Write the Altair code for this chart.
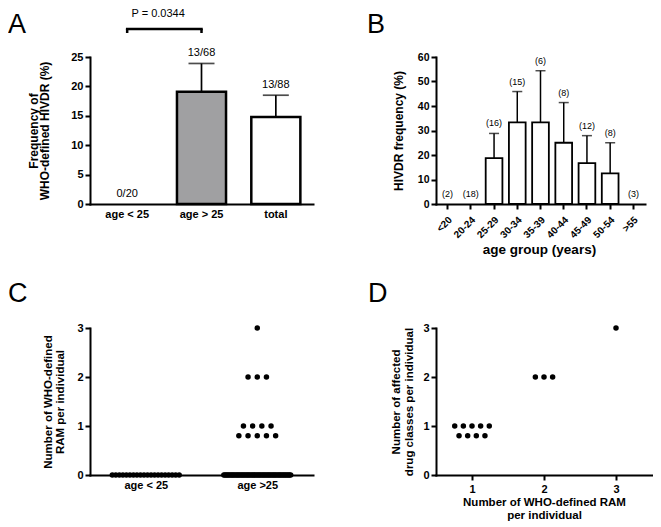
import altair as alt
import pandas as pd

FONT = "Liberation Sans"

# ---------------- data ----------------
# Panel A
a_groups = ["age < 25", "age > 25", "total"]
a_values = [0.0, 19.1, 14.8]
a_upper = [0.0, 23.9, 18.5]
a_labels = ["0/20", "13/68", "13/88"]
a_fill = ["#ffffff", "#a0a0a2", "#ffffff"]
a_pvalue = "P = 0.0344"

# Panel B
b_groups = ["<20", "20-24", "25-29", "30-34", "35-39", "40-44", "45-49", "50-54", ">55"]
b_values = [0.0, 0.0, 18.75, 33.3, 33.3, 25.0, 16.7, 12.5, 0.0]
b_upper = [0.0, 0.0, 28.8, 45.9, 54.4, 41.4, 27.9, 25.0, 0.0]
b_n = ["(2)", "(18)", "(16)", "(15)", "(6)", "(8)", "(12)", "(8)", "(3)"]

# Panel C
c_groups = ["age < 25", "age >25"]
c_levels = [0, 0.8, 1, 2, 3]
c_counts_lt25 = [20, 0, 0, 0, 0]
c_counts_gt25 = [55, 5, 4, 3, 1]

# Panel D
d_x = [1, 1, 2, 3]
d_y = [1, 0.8, 2, 3]
d_counts = [5, 4, 3, 1]

# ---------------- layout (pixels in the shared view) ----------------
VIEW_W, VIEW_H = 562, 418
TOP_RANGE = [147, 0]
BOT_RANGE = [418, 271]
A_RANGE = [0, 223]
B_RANGE = [346, 555]
C_RANGE = [0, 223]
D_RANGE = [346, 562]
TOP_AXIS_OFFSET = 147 - VIEW_H
BRACKET_Y, BRACKET_END, P_Y = 29.76, 29.08, 31.8


def ax(**kw):
    base = dict(domainColor="black", domainWidth=2, domainCap="square",
                tickColor="black", tickWidth=2, tickSize=5,
                labelFont=FONT, labelFontWeight="bold", labelFontSize=11,
                labelColor="black", labelPadding=2, labelOverlap=False, labelFlush=False,
                titleFont=FONT, titleFontWeight="bold", titleColor="black",
                titleFontSize=12, grid=False)
    base.update(kw)
    return alt.Axis(**base)


def spread(n, spacing, max_width):
    if n <= 1:
        return [0.0] * n
    s = min(spacing, max_width / (n - 1))
    return [(i - (n - 1) / 2) * s for i in range(n)]


# ---------------- Panel A ----------------
dfa = pd.DataFrame({"group": a_groups, "value": a_values, "upper": a_upper,
                    "label": a_labels, "fill": a_fill})


def xa(field, axis=None):
    return alt.X(field, scale=alt.Scale(domain=a_groups, range=A_RANGE, paddingInner=0.34,
                                        paddingOuter=0.17), axis=axis)


def ya(field, axis=None):
    return alt.Y(field, scale=alt.Scale(domain=[0, 25], range=TOP_RANGE, nice=False, zero=False),
                 axis=axis)


xa_axis = ax(orient="bottom", offset=TOP_AXIS_OFFSET, ticks=False, labelPadding=4,
             labelAngle=0, title=None)
ya_axis = ax(orient="left", values=[0, 5, 10, 15, 20, 25],
             title=["Frequency of", "WHO-defined HIVDR  (%)"], titleAngle=270,
             titleBaseline="alphabetic", titleX=-52.5, titleY=73.5, titleLineHeight=11.3)

a_base = alt.Chart(dfa)
a_bars = a_base.mark_bar(stroke="black", strokeWidth=2.5).encode(
    x=xa("group:N", xa_axis),
    y=ya("value:Q", ya_axis),
    fill=alt.Fill("fill:N", scale=None),
).transform_filter("datum.value > 0")
a_err = a_base.mark_rule(color="black", strokeWidth=1.7).encode(
    x=xa("group:N"), y=ya("value:Q"), y2="upper:Q",
).transform_filter("datum.upper > datum.value")
a_cap = a_base.mark_tick(color="black", orient="horizontal", size=26, thickness=1.7).encode(
    x=xa("group:N"), y=ya("upper:Q"),
).transform_filter("datum.upper > datum.value")
a_txt = a_base.mark_text(font=FONT, fontSize=11, color="black", baseline="alphabetic", dy=-7).encode(
    x=xa("group:N"), y=ya("upper:Q"), text="label:N",
)
dfbr = pd.DataFrame({"g1": [a_groups[0]], "g2": [a_groups[1]], "y": [BRACKET_Y],
                     "p": [a_pvalue], "py": [P_Y]})
a_bracket = alt.Chart(dfbr).mark_rule(color="black", strokeWidth=2.5, strokeCap="square").encode(
    x=xa("g1:N"), x2="g2:N", y=ya("y:Q"),
)
dfends = pd.DataFrame({"g": a_groups[:2], "y": [BRACKET_Y] * 2, "y2": [BRACKET_END] * 2})
a_ends = alt.Chart(dfends).mark_rule(color="black", strokeWidth=2.5).encode(
    x=xa("g:N"), y=ya("y:Q"), y2="y2:Q",
)
a_p = alt.Chart(dfbr).mark_text(font=FONT, fontSize=11, color="black", baseline="alphabetic", dx=31).encode(
    x=xa("g1:N"), y=ya("py:Q"), text="p:N",
)
panel_a = [a_bars, a_err, a_cap, a_txt, a_bracket, a_ends, a_p]

# ---------------- Panel B ----------------
dfb = pd.DataFrame({"group": b_groups, "value": b_values, "upper": b_upper, "n": b_n})


def xb(field, axis=None):
    return alt.X(field, sort=b_groups,
                 scale=alt.Scale(domain=b_groups, range=B_RANGE, paddingInner=0.28, paddingOuter=0.14),
                 axis=axis)


def yb(field, axis=None):
    return alt.Y(field, scale=alt.Scale(domain=[0, 60], range=TOP_RANGE, nice=False, zero=False),
                 axis=axis)


xb_axis = ax(orient="bottom", offset=TOP_AXIS_OFFSET, labelAngle=-45, labelAlign="right",
             labelBaseline="middle", labelPadding=9, labelOffset=3, labelFontSize=10,
             title="age group (years)", titleFontSize=13.5, titleBaseline="alphabetic",
             titleX=449, titleY=49)
yb_axis = ax(orient="left", offset=-346, values=[0, 10, 20, 30, 40, 50, 60],
             labelFontSize=10.5,
             title="HIVDR frequency (%)", titleAngle=270, titleBaseline="alphabetic",
             titleX=-33.8, titleY=73.5)
b_base = alt.Chart(dfb)
b_bars = b_base.mark_bar(stroke="black", strokeWidth=1.8, fill="white").encode(
    x=xb("group:N", xb_axis), y=yb("value:Q", yb_axis),
).transform_filter("datum.value > 0")
b_err = b_base.mark_rule(color="black", strokeWidth=1.5).encode(
    x=xb("group:N"), y=yb("value:Q"), y2="upper:Q",
).transform_filter("datum.upper > datum.value")
b_cap = b_base.mark_tick(color="black", orient="horizontal", size=10, thickness=1.5).encode(
    x=xb("group:N"), y=yb("upper:Q"),
).transform_filter("datum.upper > datum.value")
b_txt = b_base.mark_text(font=FONT, fontSize=9, color="black", baseline="alphabetic", dy=-7).encode(
    x=xb("group:N"), y=yb("upper:Q"), text="n:N",
)
panel_b = [b_bars, b_err, b_cap, b_txt]

# ---------------- Panel C ----------------
rows = []
for gi, counts in enumerate([c_counts_lt25, c_counts_gt25]):
    for lev, n in zip(c_levels, counts):
        for off in spread(n, 0.0825, 0.6):
            rows.append({"x": gi + 0.5 + off, "y": lev})
dfc = pd.DataFrame(rows)
c_label_expr = f"datum.value < 1 ? '{c_groups[0]}' : '{c_groups[1]}'"
xc_axis = ax(orient="bottom", values=[0.5, 1.5], labelExpr=c_label_expr, ticks=False,
             labelPadding=4, title=None)
yc_axis = ax(orient="left", values=[0, 1, 2, 3],
             title=["Number of WHO-defined", "RAM per individual"], titleFontSize=11.5,
             titleAngle=270, titleBaseline="alphabetic", titleX=-38.3, titleY=344.5,
             titleLineHeight=12.3)
panel_c = alt.Chart(dfc).mark_circle(size=30, color="black", opacity=1).encode(
    x=alt.X("x:Q", scale=alt.Scale(domain=[0, 2], range=C_RANGE, nice=False, zero=False), axis=xc_axis),
    y=alt.Y("y:Q", scale=alt.Scale(domain=[0, 3], range=BOT_RANGE, nice=False, zero=False), axis=yc_axis),
)

# ---------------- Panel D ----------------
rows = []
for xv, yv, n in zip(d_x, d_y, d_counts):
    for off in spread(n, 0.12, 1.0):
        rows.append({"x": xv + off, "y": yv})
dfd = pd.DataFrame(rows)
xd_axis = ax(orient="bottom", values=[1, 2, 3], format="d", labelPadding=3,
             title=["Number of WHO-defined RAM", "per individual"], titleFontSize=11.5,
             titleBaseline="alphabetic", titleX=454, titleY=30, titleLineHeight=13.5)
yd_axis = ax(orient="left", offset=-346, values=[0, 1, 2, 3],
             title=["Number of affected", "drug classes per individual"], titleFontSize=11.5,
             titleAngle=270, titleBaseline="alphabetic", titleX=-37, titleY=344.5,
             titleLineHeight=13)
panel_d = alt.Chart(dfd).mark_circle(size=30, color="black", opacity=1).encode(
    x=alt.X("x:Q", scale=alt.Scale(domain=[0.5, 3.5], range=D_RANGE, nice=False, zero=False), axis=xd_axis),
    y=alt.Y("y:Q", scale=alt.Scale(domain=[0, 3], range=BOT_RANGE, nice=False, zero=False), axis=yd_axis),
)

# ---------------- panel letters ----------------
letter_df = pd.DataFrame({"t": ["x"]})


def letter(txt, x, y):
    return alt.Chart(letter_df).mark_text(text=txt, font=FONT, fontSize=27, color="black",
                                          align="left", baseline="alphabetic").encode(
        x=alt.value(x), y=alt.value(y))


letters = [letter("A", -82, -24), letter("B", 277, -24), letter("C", -82, 245), letter("D", 278, 245)]

chart = alt.layer(*panel_a, *panel_b, panel_c, panel_d, *letters).resolve_scale(
    x="independent", y="independent"
).resolve_axis(
    x="independent", y="independent"
).properties(
    width=VIEW_W, height=VIEW_H,
    autosize=alt.AutoSizeParams(type="none"),
    padding={"left": 82, "top": 49, "right": 1, "bottom": 48},
).configure_view(stroke=None)

chart.save("out.html", embed_options={"renderer": "svg", "actions": False})
